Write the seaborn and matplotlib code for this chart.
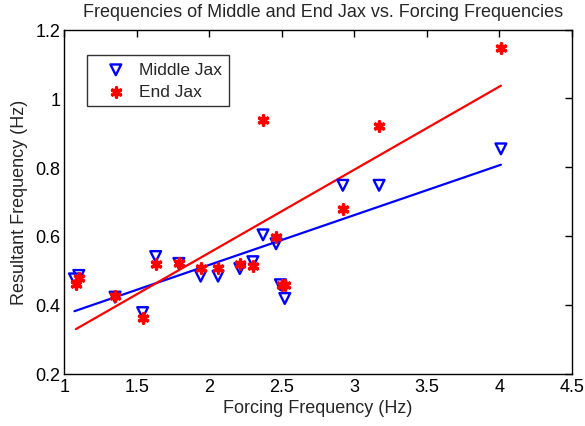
import numpy as np
import pandas as pd
import matplotlib
matplotlib.use("Agg")
import matplotlib.pyplot as plt
import seaborn as sns

middle_x = [1.07, 1.10, 1.35, 1.54, 1.63, 1.79, 1.94, 2.06, 2.21, 2.30, 2.37, 2.46, 2.49, 2.52, 2.92, 3.17, 4.01]
middle_y = [0.475, 0.485, 0.422, 0.377, 0.540, 0.520, 0.483, 0.483, 0.505, 0.525, 0.603, 0.577, 0.458, 0.418, 0.747, 0.747, 0.853]
end_x = [1.08, 1.10, 1.35, 1.54, 1.63, 1.79, 1.94, 2.06, 2.21, 2.30, 2.37, 2.46, 2.50, 2.52, 2.92, 3.17, 4.01]
end_y = [0.460, 0.478, 0.425, 0.362, 0.518, 0.522, 0.506, 0.506, 0.518, 0.512, 0.938, 0.597, 0.458, 0.458, 0.678, 0.920, 1.146]

# linear fit coefficients (slope, intercept)
middle_fit = [0.1448, 0.2262]
end_fit = [0.2415, 0.0682]

sns.set_style("white")
plt.rcParams['font.family'] = ['Liberation Sans', 'DejaVu Sans']

fig = plt.figure(figsize=(5.85, 4.27), dpi=100)
ax = fig.add_axes([64.3/585, 1-374.5/427, 507.7/585, 344/427])

dm = pd.DataFrame({"x": middle_x, "y": middle_y})
de = pd.DataFrame({"x": end_x, "y": end_y})

sns.scatterplot(data=dm, x="x", y="y", ax=ax, marker="v", s=60, facecolors="none",
                edgecolor="blue", linewidth=1.7, label="Middle Jax", zorder=3)
sns.scatterplot(data=de, x="x", y="y", ax=ax, marker=(6, 2, 0), s=45, color="red",
                edgecolor="red", linewidth=2.4, label="End Jax", zorder=3)

for xs, fit, col in [(middle_x, middle_fit, "blue"), (end_x, end_fit, "red")]:
    fx = np.array([min(xs), max(xs)])
    fy = fit[0] * fx + fit[1]
    sns.lineplot(x=fx, y=fy, ax=ax, color=col, linewidth=1.6, legend=False)

ax.set_xlim(1, 4.5)
ax.set_ylim(0.2, 1.2)
ax.set_xticks(np.arange(1, 4.51, 0.5))
ax.set_xticklabels(["1", "1.5", "2", "2.5", "3", "3.5", "4", "4.5"])
ax.set_yticks(np.arange(0.2, 1.21, 0.2))
ax.set_yticklabels(["0.2", "0.4", "0.6", "0.8", "1", "1.2"])
ax.tick_params(direction="in", top=True, right=True, length=5, width=1, labelsize=13,
               color="black", labelcolor="black", pad=3)
for s in ax.spines.values():
    s.set_color("black")
    s.set_linewidth(1)
ax.set_xlabel("Forcing Frequency (Hz)", fontsize=13, labelpad=3)
ax.set_ylabel("Resultant Frequency (Hz)", fontsize=13, labelpad=5)
ax.set_title("Frequencies of Middle and End Jax vs. Forcing Frequencies", fontsize=13,
             pad=10, x=0.51)

leg = ax.legend(loc="upper left", bbox_to_anchor=(0.045, 0.925), borderaxespad=0,
                fontsize=12.5, frameon=True, fancybox=False, edgecolor="black",
                handlelength=2.5, handletextpad=0.1, borderpad=0.4, labelspacing=0.4)
leg.get_frame().set_linewidth(1)

fig.savefig("out.png", dpi=100)
